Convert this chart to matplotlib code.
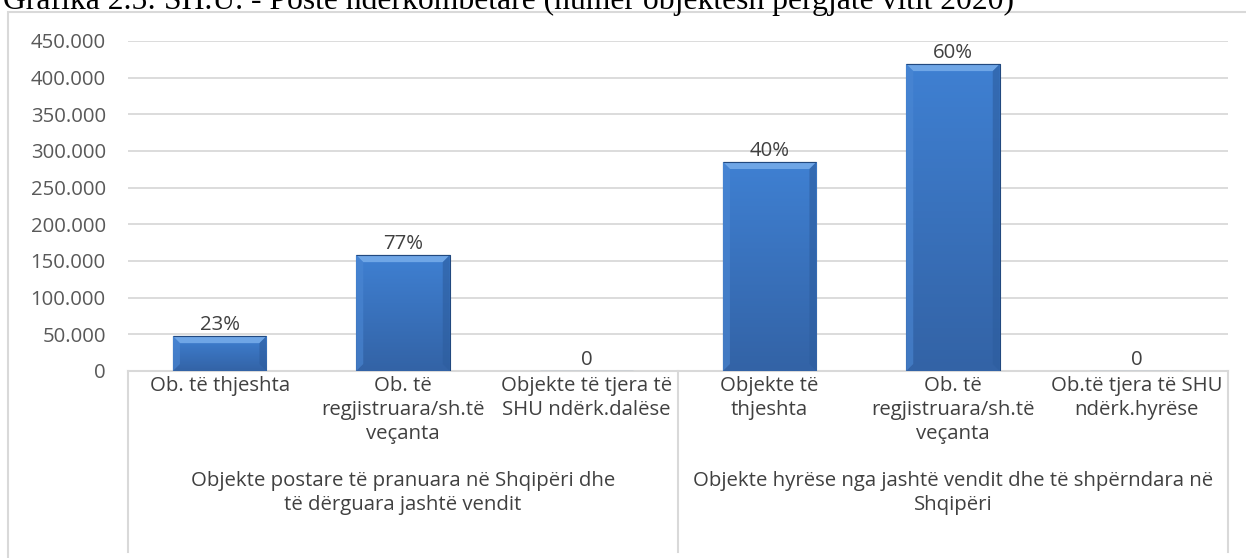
import numpy as np
import matplotlib.pyplot as plt
from matplotlib.patches import Rectangle, Polygon
from matplotlib.lines import Line2D
from matplotlib.ticker import MultipleLocator, FuncFormatter

# data
categories = ['Ob. të thjeshta',
              'Ob. të\nregjistruara/sh.të\nveçanta',
              'Objekte të tjera të\nSHU ndërk.dalëse',
              'Objekte të\nthjeshta',
              'Ob. të\nregjistruara/sh.të\nveçanta',
              'Ob.të tjera të SHU\nndërk.hyrëse']
groups = ['Objekte postare të pranuara në Shqipëri dhe\ntë dërguara jashtë vendit',
          'Objekte hyrëse nga jashtë vendit dhe të shpërndara në\nShqipëri']
group_sizes = [3, 3]
values = [47500, 158000, 0, 285000, 418500, 0]
bar_labels = ['23%', '77%', '0', '40%', '60%', '0']
title = 'Grafika 2.5: SH.U. - Poste ndërkombëtare (numër objektesh përgjatë vitit 2020)'

W, H = 1246, 558
FONT = 'Open Sans'
FS = 14.7
GRID = '#D9D9D9'
TXT = '#404040'

fig = plt.figure(figsize=(W / 100, H / 100), dpi=100)
fig.patch.set_facecolor('white')

# outer chart frame (partly cut off like the source)
fig.patches.append(Rectangle((8 / W, -0.05), 1.2, 1 - 12 / H + 0.05,
                             transform=fig.transFigure, fill=False,
                             edgecolor=GRID, lw=1.5))
fig.text(3 / W, 1 - 9 / H, title, family='Liberation Serif', fontsize=22.8,
         va='baseline', ha='left', color='black')

ax = fig.add_axes([128 / W, 1 - 371 / H, 1100 / W, 330 / H])
x = np.arange(len(values))
bw = 0.51

ax.set_xlim(-0.5, len(values) - 0.5)
ax.set_ylim(0, 450000)
ax.yaxis.set_major_locator(MultipleLocator(50000))
ax.yaxis.set_major_formatter(FuncFormatter(lambda v, p: f'{v:,.0f}'.replace(',', '.')))
ax.grid(axis='y', color=GRID, lw=1.3)
ax.set_axisbelow(True)
for s in ['top', 'right', 'left']:
    ax.spines[s].set_visible(False)
ax.spines['bottom'].set_color(GRID)
ax.spines['bottom'].set_linewidth(1.5)
ax.tick_params(axis='y', length=0, pad=16, labelsize=FS, labelcolor='#595959')
ax.tick_params(axis='x', length=0, labelbottom=False)
for t in ax.get_yticklabels():
    t.set_family(FONT)

bars = ax.bar(x, values, width=bw, color='#3A76C6', edgecolor='#22497F', lw=0.8, zorder=3)

# gradient + bevel look
grad = np.linspace(0, 1, 100).reshape(-1, 1)
cmap = plt.matplotlib.colors.LinearSegmentedColormap.from_list('b', ['#3363A6', '#3F80D2'])
px_x = 1.0 / (1100 / len(values))
px_y = 450000 / 330
for xi, v, b in zip(x, values, bars):
    if v <= 0:
        continue
    im = ax.imshow(grad, extent=[xi - bw / 2, xi + bw / 2, 0, v], origin='lower',
                   cmap=cmap, aspect='auto', zorder=3.5)
    im.set_clip_path(b)
    d, e = 7 * px_x, 7 * px_y
    l, r = xi - bw / 2, xi + bw / 2
    ax.add_patch(Polygon([[l, v], [r, v], [r - d, v - e], [l + d, v - e]],
                         closed=True, color='#6FA6E6', lw=0, zorder=4))
    ax.add_patch(Polygon([[r, v], [r, 0], [r - d, e], [r - d, v - e]],
                         closed=True, color='#2D5D9E', lw=0, zorder=4, alpha=0.6))
    ax.add_patch(Polygon([[l, v], [l, 0], [l + d, e], [l + d, v - e]],
                         closed=True, color='#4C88D4', lw=0, zorder=4, alpha=0.6))
    ax.add_patch(Rectangle((l, v), bw, 0, fill=False, edgecolor='#22497F', lw=0.8, zorder=5))

ax.set_xlim(-0.5, len(values) - 0.5)
ax.set_ylim(0, 450000)

for xi, v, lab in zip(x, values, bar_labels):
    ax.annotate(lab, (xi, v), xytext=(0, 1), textcoords='offset points',
                ha='center', va='bottom', fontsize=FS, color=TXT, family=FONT)

# multi-level category axis
tr = ax.get_xaxis_transform()
def ay(py):
    return -(py - 371) / 330

for xi, lab in zip(x, categories):
    ax.text(xi, ay(376), lab, transform=tr, ha='center', va='top', fontsize=FS,
            color=TXT, family=FONT, linespacing=1.25, clip_on=False)

start = 0
edges = [-0.5]
for g, n in zip(groups, group_sizes):
    mid = start + (n - 1) / 2
    ax.text(mid, ay(471), g, transform=tr, ha='center', va='top', fontsize=FS,
            color=TXT, family=FONT, linespacing=1.25, clip_on=False)
    start += n
    edges.append(start - 0.5)

for ex in edges:
    ax.add_line(Line2D([ex, ex], [0, ay(552)], transform=tr, color=GRID, lw=1.5, clip_on=False))

fig.savefig('out.png', dpi=100, facecolor='white')
